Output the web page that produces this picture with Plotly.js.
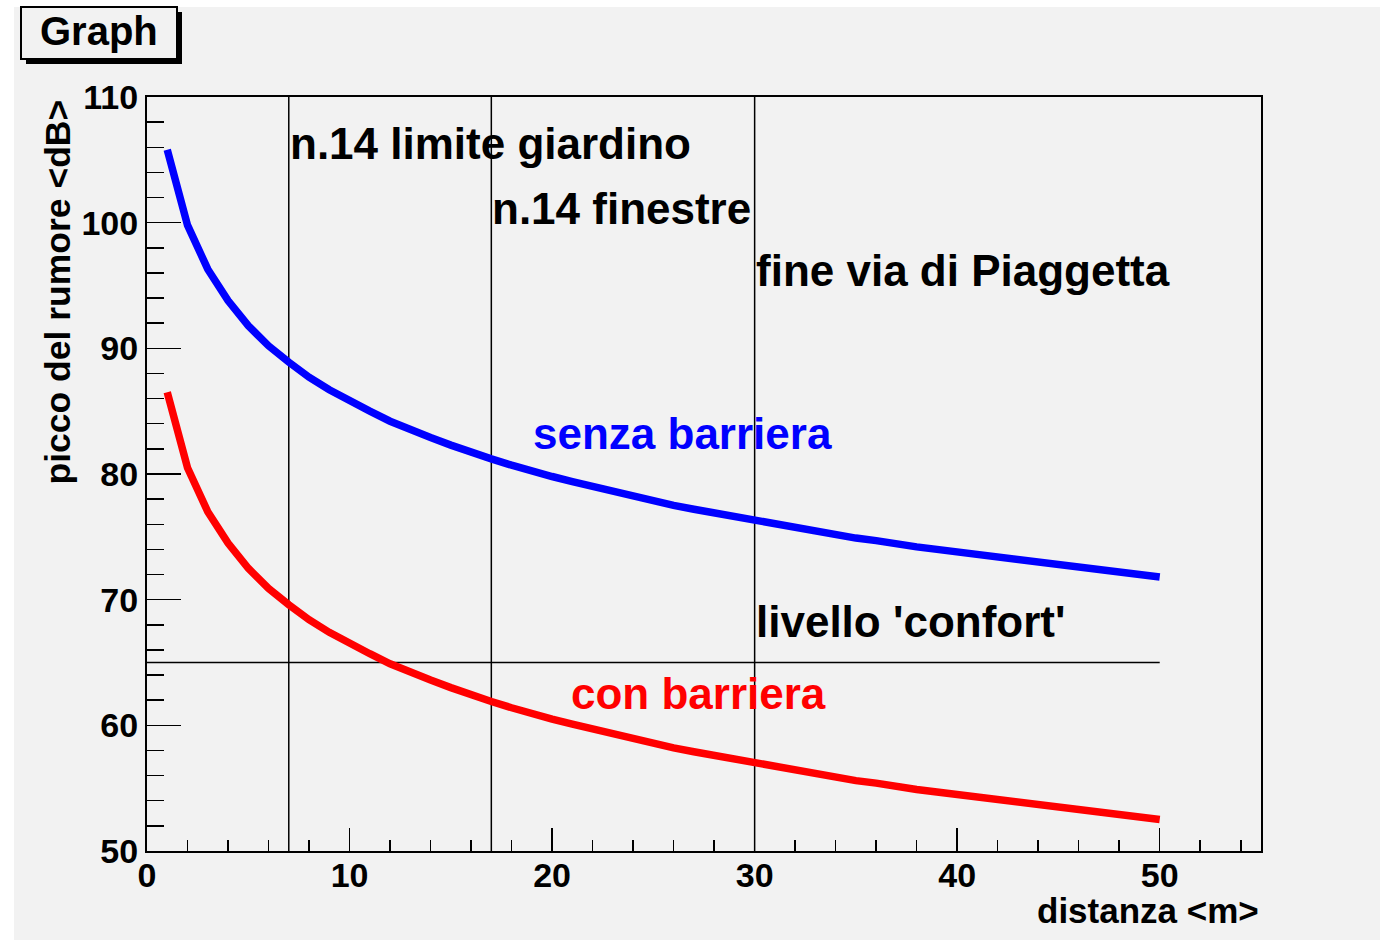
<!DOCTYPE html>
<html>
<head>
<meta charset="utf-8">
<script src="https://cdn.plot.ly/plotly-3.0.1.min.js"></script>
<style>html,body{margin:0;padding:0;background:#f2f2f2;}#chart{width:1380px;height:940px;}</style>
</head>
<body>
<div id="chart"></div>
<script>
// ---- data ----
const distanza = [1,2,3,4,5,6,7,8,9,10,11,12,13,14,15,16,17,18,19,20,21,22,23,24,25,26,27,28,29,30,31,32,33,34,35,36,37,38,39,40,41,42,43,44,45,46,47,48,49,50];
const senzaBarriera = [105.8,99.8,96.3,93.8,91.8,90.2,88.9,87.7,86.7,85.8,85.0,84.2,83.5,82.9,82.3,81.7,81.2,80.7,80.2,79.8,79.4,79.0,78.6,78.2,77.8,77.5,77.2,76.9,76.6,76.3,76.0,75.7,75.4,75.2,74.9,74.7,74.4,74.2,74.0,73.8,73.5,73.3,73.1,72.9,72.7,72.5,72.4,72.2,72.0,71.8];
const conBarriera = [86.5,80.5,77.0,74.5,72.5,70.9,69.6,68.4,67.4,66.5,65.7,64.9,64.2,63.6,63.0,62.4,61.9,61.4,60.9,60.5,60.1,59.7,59.3,58.9,58.5,58.2,57.9,57.6,57.3,57.0,56.7,56.4,56.1,55.9,55.6,55.4,55.1,54.9,54.7,54.5,54.2,54.0,53.8,53.6,53.4,53.2,53.1,52.9,52.7,52.5];
const markerDistances = [7, 17, 30];
const markerLabels = ["n.14 limite giardino", "n.14 finestre", "fine via di Piaggetta"];
const markerLabelY = [106.3, 101.1, 96.2];
const comfortLevel = 65;
const comfortLabel = "livello 'confort'";
const xTickVals = [0,10,20,30,40,50];
const yTickVals = [50,60,70,80,90,100,110];

// ---- layout geometry (pixels) ----
const W = 1380, H = 940, L = 147, R = 1261, T = 97, B = 851;
const px = x => (x - L) / (R - L);
const py = y => (B - y) / (B - T);
const FONT = 'Liberation Sans, Arial, Helvetica, sans-serif';

const traces = [
  {x: distanza, y: senzaBarriera, mode: 'lines', line: {color: '#0000ff', width: 7.5}, hoverinfo: 'skip'},
  {x: distanza, y: conBarriera, mode: 'lines', line: {color: '#ff0000', width: 7.5}, hoverinfo: 'skip'}
];

const shapes = [
  // white frame strips
  {type:'rect', xref:'paper', yref:'paper', x0: px(0), x1: px(14), y0: py(0), y1: py(H), fillcolor:'#ffffff', line:{width:0}},
  {type:'rect', xref:'paper', yref:'paper', x0: px(0), x1: px(W), y0: py(0), y1: py(7), fillcolor:'#ffffff', line:{width:0}},
  // title box shadow + box
  {type:'rect', xref:'paper', yref:'paper', x0: px(26), x1: px(182), y0: py(64), y1: py(12), fillcolor:'#000000', line:{width:0}},
  {type:'rect', xref:'paper', yref:'paper', x0: px(21), x1: px(177), y0: py(59), y1: py(7), fillcolor:'#f2f2f2', line:{color:'#000000', width:2}}
];
markerDistances.forEach(d => shapes.push({type:'line', xref:'x', yref:'y', x0:d, x1:d, y0:50, y1:110, line:{color:'#000000', width:1.5}, layer:'below'}));
shapes.push({type:'line', xref:'x', yref:'y', x0:0, x1:50, y0:comfortLevel, y1:comfortLevel, line:{color:'#000000', width:1.5}, layer:'below'});

const annotations = [];
const bigFont = (c) => ({family: FONT, size: 44, color: c, weight: 'bold'});
markerDistances.forEach((d, i) => annotations.push({x: d, y: markerLabelY[i], xref:'x', yref:'y', text: markerLabels[i], showarrow:false, xanchor:'left', yanchor:'middle', font: bigFont('#000000'), borderpad:0}));
annotations.push({x: 30, y: 68.25, xref:'x', yref:'y', text: comfortLabel, showarrow:false, xanchor:'left', yanchor:'middle', font: bigFont('#000000'), borderpad:0});
annotations.push({x: 19.0, y: 83.2, xref:'x', yref:'y', text: 'senza barriera', showarrow:false, xanchor:'left', yanchor:'middle', font: bigFont('#0000ff'), borderpad:0});
annotations.push({x: 20.9, y: 62.5, xref:'x', yref:'y', text: 'con barriera', showarrow:false, xanchor:'left', yanchor:'middle', font: bigFont('#ff0000'), borderpad:0});
// axis titles
annotations.push({x: px(1260), y: py(911), xref:'paper', yref:'paper', text: 'distanza &lt;m&gt;', showarrow:false, xanchor:'right', yanchor:'middle', font:{family: FONT, size: 35, color:'#000000', weight:'bold'}, borderpad:0});
annotations.push({x: px(57), y: py(292.5), xref:'paper', yref:'paper', text: 'picco del rumore &lt;dB&gt;', textangle: -90, showarrow:false, xanchor:'center', yanchor:'middle', font:{family: FONT, size: 35.5, color:'#000000', weight:'bold'}, borderpad:0});
// title
annotations.push({x: px(99), y: py(31), xref:'paper', yref:'paper', text: 'Graph', showarrow:false, xanchor:'center', yanchor:'middle', font:{family: FONT, size: 40, color:'#000000', weight:'bold'}, borderpad:0});

const tickFont = {family: FONT, size: 34, color: '#000000', weight: 'bold'};
const layout = {
  width: W, height: H,
  margin: {l: L, r: W - R, t: T, b: H - B, pad: 0},
  paper_bgcolor: '#f2f2f2', plot_bgcolor: '#f2f2f2',
  showlegend: false,
  font: {family: FONT, color: '#000000'},
  xaxis: {
    range: [0, 55], tickmode: 'array', tickvals: xTickVals, ticktext: xTickVals.map(String),
    ticks: 'inside', ticklen: 23, tickwidth: 1.5, tickcolor: '#000000',
    minor: {dtick: 2, tick0: 0, ticks: 'inside', ticklen: 11, tickwidth: 1.5, tickcolor: '#000000', showgrid: false},
    showline: true, linecolor: '#000000', linewidth: 2, mirror: true,
    showgrid: false, zeroline: false, tickfont: tickFont, ticklabelstandoff: -7, fixedrange: true
  },
  yaxis: {
    range: [50, 110], tickmode: 'array', tickvals: yTickVals, ticktext: yTickVals.map(String),
    ticks: 'inside', ticklen: 34, tickwidth: 1.5, tickcolor: '#000000',
    minor: {dtick: 2, tick0: 50, ticks: 'inside', ticklen: 17, tickwidth: 1.5, tickcolor: '#000000', showgrid: false},
    showline: true, linecolor: '#000000', linewidth: 2, mirror: true,
    showgrid: false, zeroline: false, tickfont: tickFont, ticklabelstandoff: 0, fixedrange: true
  },
  shapes: shapes,
  annotations: annotations
};

Plotly.newPlot('chart', traces, layout, {displayModeBar: false, staticPlot: true});
</script>
</body>
</html>
